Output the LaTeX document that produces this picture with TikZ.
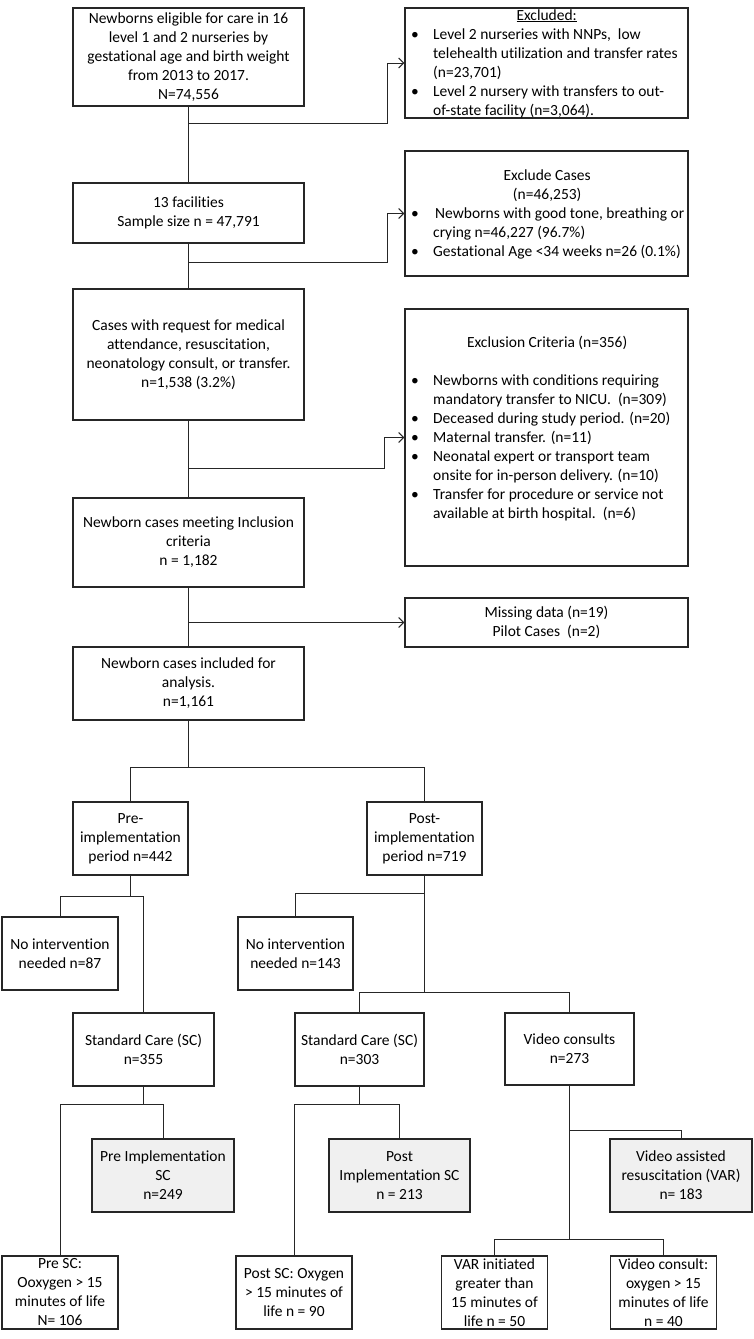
\documentclass[tikz,border=0pt]{standalone}
\usepackage{fontspec}
\setmainfont{Carlito}[Ligatures=NoCommon]
\usetikzlibrary{arrows.meta}
\newcommand\myfs{\fontsize{15.5}{19}\selectfont}
\newcommand\bul{\makebox[23pt][l]{\hspace{1pt}•}}
\newcommand\ind{\makebox[23pt]{}}
\begin{document}
\begin{tikzpicture}[x=1pt,y=-1pt,
  box/.style={draw=black!85, line width=1.2pt, inner sep=0pt, align=center, font=\myfs},
  gbox/.style={box, fill=black!6},
  conn/.style={line width=1pt, draw=black!85},
  arr/.style={conn, -{Straight Barb[length=5pt,width=10pt]}},
  txt/.style={inner sep=0pt, align=left, font=\myfs, anchor=west}]
\useasboundingbox (0,0) rectangle (754,1339);

% main column
\node[box, minimum width=231pt, minimum height=98pt] (b1) at (188.5,57)
  {Newborns eligible for care in 16\\level 1 and 2 nurseries by\\gestational age and birth weight\\from 2013 to 2017.\\N=74,556};
\node[box, minimum width=231pt, minimum height=60pt] (b2) at (188.5,213)
  {13 facilities\\Sample size n = 47,791};
\node[box, minimum width=231pt, minimum height=131pt] (b3) at (188.5,354.5)
  {Cases with request for medical\\attendance, resuscitation,\\neonatology consult, or transfer.\\n=1,538 (3.2\%)};
\node[box, minimum width=231pt, minimum height=89pt] (b4) at (188.5,542.5)
  {Newborn cases meeting Inclusion\\criteria\\n = 1,182};
\node[box, minimum width=231pt, minimum height=73pt] (b5) at (188.5,683.5)
  {Newborn cases included for\\analysis.\\n=1,161};

% exclusion boxes
\node[box, minimum width=283pt, minimum height=110pt] (ex1) at (546.5,63) {};
\node[txt] (ex1t) at (410,63.5)
  {\makebox[273pt][c]{\underline{Excluded:}}\\
   \bul Level 2 nurseries with NNPs,\ \ low\\
   \ind telehealth utilization and transfer rates\\
   \ind (n=23,701)\\
   \bul Level 2 nursery with transfers to out-\\
   \ind of-state facility (n=3,064).};
\node[box, minimum width=283pt, minimum height=125pt] (ex2) at (546.5,213.5) {};
\node[txt] (ex2t) at (410,214)
  {\makebox[274pt][c]{Exclude Cases}\\
   \makebox[274pt][c]{(n=46,253)}\\
   \bul\hspace{2pt}Newborns with good tone, breathing or\\
   \ind crying n=46,227 (96.7\%)\\
   \bul Gestational Age <34 weeks n=26 (0.1\%)};
\node[box, minimum width=283pt, minimum height=257pt] (ex3) at (546.5,437.5) {};
\node[txt] (ex3t) at (410,428.5)
  {\makebox[274pt][c]{Exclusion Criteria (n=356)}\\[19pt]
   \bul Newborns with conditions requiring\\
   \ind mandatory transfer to NICU.\ \ (n=309)\\
   \bul Deceased during study period. (n=20)\\
   \bul Maternal transfer. (n=11)\\
   \bul Neonatal expert or transport team\\
   \ind onsite for in-person delivery. (n=10)\\
   \bul Transfer for procedure or service not\\
   \ind available at birth hospital.\ \ (n=6)};
\node[box, minimum width=283pt, minimum height=49pt] (ex4) at (546.5,622.5)
  {Missing data (n=19)\\Pilot Cases\ \ (n=2)};

% tree level 1
\node[box, minimum width=115pt, minimum height=73pt] (pre) at (130.5,838.5)
  {Pre-\\implementation\\period n=442};
\node[box, minimum width=115pt, minimum height=73pt] (post) at (424.5,838.5)
  {Post-\\implementation\\period n=719};

% level 2
\node[box, minimum width=116pt, minimum height=73pt] (ni1) at (60,953.5)
  {No intervention\\needed n=87};
\node[box, minimum width=115pt, minimum height=73pt] (ni2) at (295.5,953.5)
  {No intervention\\needed n=143};
\node[box, minimum width=141pt, minimum height=73pt] (sc1) at (143.5,1049.5)
  {Standard Care (SC)\\n=355};
\node[box, minimum width=129pt, minimum height=73pt] (sc2) at (359.5,1049.5)
  {Standard Care (SC)\\n=303};
\node[box, minimum width=129pt, minimum height=72pt] (vc) at (569.5,1049)
  {Video consults\\n=273};

% level 3
\node[gbox, minimum width=142pt, minimum height=73pt] (pisc) at (163,1175.5)
  {Pre Implementation\\SC\\n=249};
\node[gbox, minimum width=141pt, minimum height=73pt] (poisc) at (399.5,1175.5)
  {Post\\Implementation SC\\n = 213};
\node[gbox, minimum width=142pt, minimum height=73pt] (var) at (681,1175.5)
  {Video assisted\\resuscitation (VAR)\\n= 183};

% level 4
\node[box, minimum width=116pt, minimum height=73pt] (presc) at (60,1292.5)
  {Pre SC:\\Ooxygen > 15\\minutes of life\\N= 106};
\node[box, minimum width=116pt, minimum height=73pt] (postsc) at (294,1292.5)
  {Post SC: Oxygen\\> 15 minutes of\\life n = 90};
\node[box, minimum width=106pt, minimum height=73pt] (vari) at (494.5,1292.5)
  {VAR initiated\\greater than\\15 minutes of\\life n = 50};
\node[box, minimum width=106.5pt, minimum height=73pt] (vcon) at (663.5,1292.5)
  {Video consult:\\oxygen > 15\\minutes of life\\n = 40};

% junction coordinates
\coordinate (j1) at (188.5,123);
\coordinate (k1) at (387.5,123);
\coordinate (j2) at (188.5,262);
\coordinate (k2) at (387.5,262);
\coordinate (j3) at (188.5,468);
\coordinate (k3) at (384,468);
\coordinate (j4) at (b4.south |- ex4.west);
\coordinate (t1) at (188.5,767);
\coordinate (t2) at (130.5,896);
\coordinate (t3) at (424.5,893);
\coordinate (t4) at (424.5,992);
\coordinate (t5) at (143.5,1104);
\coordinate (t6) at (359.5,1104);
\coordinate (t7) at (569.5,1130);
\coordinate (t8) at (569.5,1239);

% main column connectors
\draw[conn] (b1) -- (b2);
\draw[conn] (b2) -- (b3);
\draw[conn] (b3) -- (b4);
\draw[conn] (b4) -- (b5);
\draw[arr] (j1) -- (k1) |- (ex1.west);
\draw[arr] (j2) -- (k2) |- (ex2.west);
\draw[arr] (j3) -- (k3) |- (ex3.west);
\draw[arr] (j4) -- (ex4.west);

% tree connectors
\draw[conn] (b5.south) -- (t1);
\draw[conn] (pre.north) |- (t1) -| (post.north);
\draw[conn] (pre.south) -- (t2);
\draw[conn] (ni1.north) |- (t2) -| (sc1.north);
\draw[conn] (post.south) -- (t4);
\draw[conn] (ni2.north) |- (t3);
\draw[conn] (sc2.north) |- (t4) -| (vc.north);
\draw[conn] (sc1.south) -- (t5);
\draw[conn] (presc.north) |- (t5) -| (pisc.north);
\draw[conn] (sc2.south) -- (t6);
\draw[conn] (postsc.north) |- (t6) -| (poisc.north);
\draw[conn] (vc.south) -- (t8);
\draw[conn] (t7) -| (var.north);
\draw[conn] (vari.north) |- (t8) -| (vcon.north);
\end{tikzpicture}
\end{document}
